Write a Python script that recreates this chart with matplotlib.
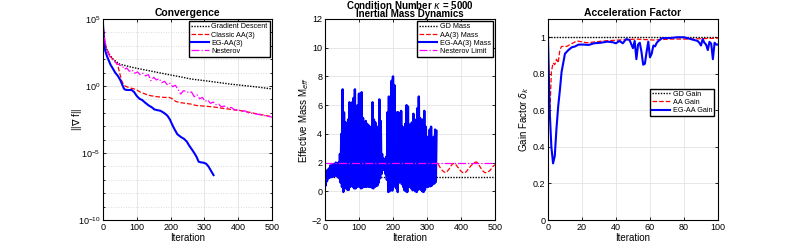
import matplotlib
matplotlib.use('Agg')
import matplotlib.pyplot as plt
import numpy as np
from matplotlib.ticker import FixedLocator, LogFormatterMathtext, NullFormatter

plt.rcParams['font.family'] = ['Liberation Sans', 'DejaVu Sans']
plt.rcParams['mathtext.fontset'] = 'dejavusans'

# ---- panel 1: convergence (log10 of ||grad f||) ----
gd_it = [0, 2, 5, 10, 20, 30, 40, 50, 70, 90, 140, 190, 230, 260, 300, 330, 380, 430, 470, 500]
gd_log = [4.6, 4.1, 3.35, 2.8, 2.3, 2.0, 1.8, 1.62, 1.5, 1.37, 1.12, 0.87, 0.68, 0.52, 0.4, 0.3, 0.13, 0.0, -0.12, -0.22]

aa_it = [0, 2, 5, 10, 20, 30, 40, 45, 50, 55, 60, 65, 70, 80, 90, 100, 110, 120, 130, 140, 160, 180, 195,
         205, 215, 228, 240, 260, 275, 300, 326, 350, 380, 410, 425, 450, 475, 500]
aa_log = [4.6, 4.1, 3.35, 2.8, 2.3, 1.95, 1.7, 1.4, 0.9, 0.4, 0.15, 0.0, -0.05, -0.15, -0.2, -0.3, -0.45, -0.55,
          -0.65, -0.72, -0.8, -0.85, -0.85, -0.95, -1.15, -1.24, -1.28, -1.35, -1.45, -1.5, -1.56, -1.65, -1.75,
          -1.85, -1.92, -2.05, -2.17, -2.3]

eg_it = [0, 2, 4, 7, 12, 18, 22, 28, 36, 44, 51, 56, 62, 66, 75, 85, 92, 100, 108, 116, 125, 135, 145, 152,
         160, 170, 180, 190, 198, 205, 212, 220, 230, 240, 248, 255, 262, 270, 277, 283, 290, 297, 305, 312, 320, 327]
eg_log = [4.6, 3.6, 3.0, 2.6, 2.2, 1.85, 1.6, 1.35, 1.0, 0.75, 0.45, 0.15, -0.2, -0.28, -0.3, -0.3, -0.45, -0.75,
          -0.95, -1.05, -1.25, -1.45, -1.6, -1.75, -1.8, -1.85, -2.0, -2.2, -2.5, -2.9, -3.25, -3.6, -3.8, -3.95,
          -4.15, -4.45, -4.7, -5.0, -5.3, -5.65, -5.7, -5.72, -5.8, -6.0, -6.35, -6.65]

nes_it = [0, 3, 6, 10, 15, 20, 30, 40, 50, 58, 64, 70, 78, 86, 94, 102, 110, 118, 126, 134, 142, 150, 158, 166,
          174, 182, 190, 198, 206, 214, 222, 230, 238, 246, 254, 262, 270, 278, 286, 294, 302, 310, 318, 326, 334,
          342, 350, 360, 370, 380, 390, 400, 410, 420, 430, 445, 460, 480, 500]
nes_log = [4.6, 3.8, 3.3, 2.8, 2.45, 2.2, 1.9, 1.7, 1.55, 1.45, 1.25, 1.35, 1.1, 1.2, 0.95, 1.05, 0.85, 0.95, 0.75,
           0.85, 0.4, 0.65, 0.45, 0.55, 0.25, 0.35, 0.1, 0.2, -0.05, 0.05, -0.25, -0.6, -0.35, -0.4, -0.5, -0.45,
           -0.8, -0.65, -0.95, -0.85, -1.15, -1.05, -1.3, -1.2, -1.4, -1.35, -1.55, -1.5, -1.65, -1.6, -1.8, -1.75,
           -1.9, -1.85, -2.0, -2.05, -2.12, -2.22, -2.32]

# ---- panel 2: effective mass ----
gd_mass_it = [0, 500]
gd_mass = [1, 1]
nes_mass_it = [0, 500]
nes_mass = [2, 2]

aa_mass_it = [0, 20, 40, 60, 80, 100, 120, 140, 160, 165, 170, 180, 200, 220, 225, 230, 250, 270, 290, 310,
              330, 335, 340, 345, 350, 355, 360, 365, 370, 375, 380, 385, 390, 395, 400, 405, 410, 415, 420,
              425, 430, 435, 440, 445, 450, 455, 460, 465, 470, 475, 480, 485, 490, 495, 500]
aa_mass = [1.0, 1.0, 1.1, 1.2, 1.3, 1.2, 1.3, 1.2, 1.2, 1.3, 1.5, 1.4, 1.3, 1.2, 1.25, 1.4, 1.5, 1.6, 1.7, 1.8,
           1.95, 1.8, 1.6, 1.45, 1.35, 1.3, 1.4, 1.55, 1.75, 1.9, 1.95, 1.85, 1.7, 1.55, 1.4, 1.3, 1.28, 1.35,
           1.5, 1.65, 1.8, 1.9, 2.0, 2.05, 1.95, 1.75, 1.55, 1.4, 1.3, 1.3, 1.35, 1.45, 1.6, 1.75, 1.85]

# EG-AA(3) mass oscillates every step: peaks and troughs in between
eg_peak_it = list(range(0, 329, 4))
eg_peak = [1.0, 1.3, 1.5, 1.6, 1.8, 1.8, 1.9, 1.9, 2.0, 1.95, 2.0, 2.6, 4.0, 7.1, 5.5, 4.8, 4.7, 5.0, 6.2, 5.2,
           6.2, 6.5, 7.1, 5.6, 6.0, 6.8, 6.8, 6.9, 5.1, 4.6, 4.9, 4.7, 4.6, 4.5, 4.4, 6.2, 5.0, 4.8, 3.8, 4.5,
           6.4, 4.9, 2.6, 2.3, 2.2, 2.4, 5.5, 6.6, 6.3, 7.7, 8.0, 7.4, 5.0, 5.5, 5.5, 5.4, 5.6, 4.5, 2.9, 4.7,
           6.0, 5.9, 3.6, 4.7, 4.8, 5.4, 5.0, 4.5, 5.8, 6.6, 5.1, 3.8, 5.0, 5.6, 4.5, 3.8, 3.3, 4.3, 4.5, 3.3,
           3.8, 4.3, 4.2]
eg_trough_it = list(range(2, 327, 4))
eg_trough = [0.4, 0.7, 0.9, 0.95, 1.0, 1.0, 1.05, 1.1, 1.1, 1.0, 0.9, 0.6, 0.3, -0.05, 0.3, 0.2, 0.1, 0.1, 0.3,
             0.4, 0.3, 0.2, 0.2, 0.3, 0.35, 0.3, 0.2, 0.25, 0.3, 0.3, 0.3, 0.35, 0.3, 0.3, 0.25, 0.2, 0.3, 0.35,
             0.4, 0.6, 0.9, 1.2, 1.5, 1.5, 1.2, 0.8, -0.05, 0.0, 0.1, 0.05, 0.3, 0.5, 0.2, -0.05, 0.6, 0.8, 0.5,
             0.3, 0.07, 0.0, -0.05, 0.3, 0.3, 0.2, 0.07, 0.1, 0.0, -0.05, 0.1, 0.2, 0.1, 0.0, -0.05, 0.1, 0.3,
             0.3, 0.35, 0.35, 0.4, 0.5, 0.55, 0.65]

# ---- panel 3: gain factor ----
gd_gain_it = [0, 100]
gd_gain = [1, 1]
aa_gain_it = [0, 1, 2, 3, 4, 5, 6, 7, 8, 11, 15, 17, 23, 33, 42, 52, 62, 72, 82, 100]
aa_gain = [1.0, 0.55, 0.81, 0.86, 0.85, 0.88, 0.86, 0.93, 0.95, 0.95, 0.97, 0.98, 0.97, 0.98, 0.985, 0.99, 0.985,
           0.99, 0.99, 0.995]
eg_gain_it = [0, 1, 2, 3, 4, 5, 6, 7, 8, 9, 10, 11, 12, 14, 16, 18, 21, 24, 27, 31, 35, 38, 40, 42, 44, 46, 48,
              50, 51, 52, 53, 54, 55, 56, 57, 58, 59, 60, 61, 62, 63, 64, 65, 67, 72, 76, 80, 84, 86, 88, 89,
              90, 91, 92, 93, 94, 95, 96, 97, 98, 99, 100]
eg_gain = [1.0, 0.6, 0.4, 0.31, 0.35, 0.5, 0.62, 0.71, 0.81, 0.86, 0.91, 0.92, 0.93, 0.945, 0.95, 0.96, 0.96,
           0.958, 0.967, 0.97, 0.976, 0.973, 0.967, 0.98, 0.967, 0.99, 0.985, 0.94, 0.98, 0.88, 0.96, 0.97,
           0.92, 0.85, 0.855, 0.92, 0.976, 0.89, 0.91, 0.955, 0.95, 0.97, 0.98, 0.995, 0.996, 1.0, 1.0, 0.99,
           0.985, 0.98, 0.97, 0.955, 0.99, 0.97, 0.96, 0.93, 0.975, 0.965, 0.88, 0.97, 0.96, 0.96]

fig = plt.figure(figsize=(7.93, 2.48), dpi=100)
ax1 = fig.add_axes([0.1299, 0.1129, 0.2131, 0.8105])
ax2 = fig.add_axes([0.4098, 0.1129, 0.2144, 0.8105])
ax3 = fig.add_axes([0.6910, 0.1129, 0.2144, 0.8105])

blue = (0, 0, 1)
red = (1, 0, 0)
mag = (1, 0, 1)
dot = (0, (1, 1))
leg_kw = dict(fontsize=5.2, fancybox=False, edgecolor='k', framealpha=1, handlelength=2.4,
              borderpad=0.3, labelspacing=0.15, handletextpad=0.4)


def style(ax):
    ax.tick_params(direction='in', top=True, right=True, which='both', labelsize=6.5,
                   length=2.5, width=0.6, pad=2)
    ax.tick_params(which='minor', length=1.5)
    for s in ax.spines.values():
        s.set_linewidth(0.8)
    ax.grid(True, which='major', color='#e3e3e3', lw=0.6)
    ax.set_axisbelow(True)


# panel 1
ax1.semilogy(gd_it, 10.0 ** np.array(gd_log), ls=dot, color='k', lw=1.0, label='Gradient Descent')
ax1.semilogy(aa_it, 10.0 ** np.array(aa_log), '--', color=red, lw=0.9, label='Classic AA(3)')
ax1.semilogy(eg_it, 10.0 ** np.array(eg_log), '-', color=blue, lw=1.5, label='EG-AA(3)')
ax1.semilogy(nes_it, 10.0 ** np.array(nes_log), '-.', color=mag, lw=0.9, label='Nesterov')
ax1.set_xlim(0, 500)
ax1.set_ylim(1e-10, 1e5)
ax1.set_xticks([0, 100, 200, 300, 400, 500])
ax1.yaxis.set_major_locator(FixedLocator([1e-10, 1e-5, 1e0, 1e5]))
ax1.yaxis.set_major_formatter(LogFormatterMathtext())
ax1.yaxis.set_minor_locator(FixedLocator(10.0 ** np.arange(-10, 6)))
ax1.yaxis.set_minor_formatter(NullFormatter())
style(ax1)
ax1.grid(True, which='minor', axis='y', color='#d0d0d0', lw=0.6, ls=(0, (1, 2)))
ax1.set_title('Convergence', fontsize=7.5, fontweight='bold', pad=2)
ax1.set_xlabel('Iteration', fontsize=7, labelpad=1)
ax1.set_ylabel(r'||$\nabla$ f||', fontsize=7)
ax1.yaxis.set_label_coords(-0.112, 0.5)
ax1.legend(loc='upper right', borderaxespad=0.3, **leg_kw)

# panel 2
ax2.plot(gd_mass_it, gd_mass, ls=dot, color='k', lw=1.0, label='GD Mass')
ax2.plot(aa_mass_it, aa_mass, '--', color=red, lw=0.9, label='AA(3) Mass')
eg_x = np.empty(len(eg_peak_it) + len(eg_trough_it))
eg_y = np.empty_like(eg_x)
eg_x[0::2] = eg_peak_it
eg_x[1::2] = eg_trough_it
eg_y[0::2] = eg_peak
eg_y[1::2] = eg_trough
ax2.plot(eg_x, eg_y, '-', color=blue, lw=1.7, label='EG-AA(3) Mass')
ax2.plot(nes_mass_it, nes_mass, '-.', color=mag, lw=0.9, label='Nesterov Limit')
ax2.set_xlim(0, 500)
ax2.set_ylim(-2, 12)
ax2.set_xticks([0, 100, 200, 300, 400, 500])
ax2.set_yticks(range(-2, 13, 2))
style(ax2)
ax2.set_title('Condition Number $\\kappa$ = 5000\nInertial Mass Dynamics', fontsize=7,
              fontweight='bold', pad=1.5, linespacing=0.8)
ax2.set_xlabel('Iteration', fontsize=7, labelpad=1)
ax2.set_ylabel('Effective Mass M$_{eff}$', fontsize=7)
ax2.yaxis.set_label_coords(-0.085, 0.5)
leg2 = ax2.legend(loc='upper right', borderaxespad=0.3, **leg_kw)
leg2.get_lines()[2].set_linewidth(1.5)

# panel 3
ax3.plot(gd_gain_it, gd_gain, ls=dot, color='k', lw=1.0, label='GD Gain')
ax3.plot(aa_gain_it, aa_gain, '--', color=red, lw=0.9, label='AA Gain')
ax3.plot(eg_gain_it, eg_gain, '-', color=blue, lw=1.5, label='EG-AA Gain')
ax3.set_xlim(0, 100)
ax3.set_ylim(0, 1.1)
ax3.set_xticks([0, 20, 40, 60, 80, 100])
ax3.set_yticks([0, 0.2, 0.4, 0.6, 0.8, 1])
ax3.set_yticklabels(['0', '0.2', '0.4', '0.6', '0.8', '1'])
style(ax3)
ax3.set_title('Acceleration Factor', fontsize=7.5, fontweight='bold', pad=2)
ax3.set_xlabel('Iteration', fontsize=7, labelpad=1)
ax3.set_ylabel('Gain Factor $\\delta_k$', fontsize=7)
ax3.yaxis.set_label_coords(-0.1, 0.5)
ax3.legend(loc='center left', bbox_to_anchor=(0.58, 0.585), **leg_kw)

fig.savefig('out.png', dpi=100)
